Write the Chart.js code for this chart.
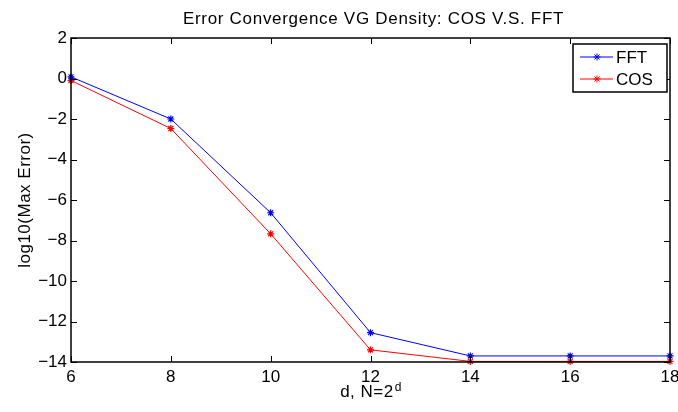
<!DOCTYPE html>
<html>
<head>
<meta charset="utf-8">
<script src="https://cdn.jsdelivr.net/npm/chart.js@4.4.0/dist/chart.umd.min.js"></script>
<style>
  html, body { margin: 0; padding: 0; background: #fff; }
  #wrap { width: 678px; height: 412px; }
</style>
</head>
<body>
<div id="wrap"><canvas id="grafico" width="678" height="412"></canvas></div>
<script>
// dados
const valoresD = [6, 8, 10, 12, 14, 16, 18]
const erroFFT = [0.08, -2.0, -6.63, -12.55, -13.7, -13.7, -13.7]
const erroCOS = [-0.1, -2.47, -7.67, -13.4, -13.97, -13.97, -13.97]
const ticksX = [6, 8, 10, 12, 14, 16, 18]
const ticksY = [2, 0, -2, -4, -6, -8, -10, -12, -14]

const fonte = "'Liberation Sans', Arial, sans-serif"
const menos = v => String(v).replace('-', '\u2212')

function pontos(ys){
    return valoresD.map((d, i) => ({ x: d, y: ys[i] }))
}

// caixa, ticks para dentro, titulos e legenda no estilo matlab
const estiloMatlab = {
    id: 'estiloMatlab',
    afterDraw(chart){
        const ctx = chart.ctx
        const area = chart.chartArea
        const sx = chart.scales.x
        const sy = chart.scales.y
        const tam = 6
        ctx.save()
        ctx.strokeStyle = '#000'
        ctx.lineWidth = 1
        ctx.beginPath()
        for (const v of ticksX){
            const px = Math.round(sx.getPixelForValue(v)) + 0.5
            ctx.moveTo(px, area.bottom); ctx.lineTo(px, area.bottom - tam)
            ctx.moveTo(px, area.top); ctx.lineTo(px, area.top + tam)
        }
        for (const v of ticksY){
            const py = Math.round(sy.getPixelForValue(v)) + 0.5
            ctx.moveTo(area.left, py); ctx.lineTo(area.left + tam, py)
            ctx.moveTo(area.right, py); ctx.lineTo(area.right - tam, py)
        }
        ctx.stroke()
        ctx.lineWidth = 1.5
        ctx.strokeRect(area.left, area.top, area.right - area.left, area.bottom - area.top)

        // titulo
        const cx = (area.left + area.right) / 2
        ctx.fillStyle = '#000'
        ctx.letterSpacing = '0.7px'
        ctx.font = '17px ' + fonte
        ctx.textAlign = 'center'
        ctx.textBaseline = 'alphabetic'
        ctx.fillText('Error Convergence VG Density: COS V.S. FFT', cx + 3, 24)

        // titulo eixo x com sobrescrito
        ctx.letterSpacing = '0.5px'
        const base = 'd, N=2'
        ctx.font = '17px ' + fonte
        const wBase = ctx.measureText(base).width
        ctx.font = '12px ' + fonte
        const wSup = ctx.measureText('d').width
        const x0 = cx - (wBase + wSup) / 2
        ctx.textAlign = 'left'
        ctx.font = '17px ' + fonte
        ctx.fillText(base, x0, 397)
        ctx.font = '12px ' + fonte
        ctx.fillText('d', x0 + wBase + 1, 391)

        // titulo eixo y
        ctx.save()
        ctx.translate(30, (area.top + area.bottom) / 2)
        ctx.rotate(-Math.PI / 2)
        ctx.textAlign = 'center'
        ctx.font = '17px ' + fonte
        ctx.fillText('log10(Max Error)', 0, 0)
        ctx.restore()
        ctx.letterSpacing = '0px'

        // legenda
        const lx = 573, ly = 44, lw = 94, lh = 48
        ctx.fillStyle = '#fff'
        ctx.fillRect(lx, ly, lw, lh)
        ctx.lineWidth = 1.5
        ctx.strokeStyle = '#000'
        ctx.strokeRect(lx, ly, lw, lh)
        chart.data.datasets.forEach((ds, i) => {
            const yy = ly + 13 + i * 22
            ctx.strokeStyle = ds.borderColor
            ctx.lineWidth = 1
            ctx.beginPath()
            ctx.moveTo(lx + 7, yy); ctx.lineTo(lx + 40, yy)
            ctx.stroke()
            Chart.helpers.drawPoint(ctx, { pointStyle: 'star', radius: 3.5, borderWidth: 1.2, rotation: 0 }, lx + 24, yy)
            ctx.fillStyle = '#000'
            ctx.font = '17px ' + fonte
            ctx.textAlign = 'left'
            ctx.textBaseline = 'middle'
            ctx.fillText(ds.label, lx + 43, yy + 1)
        })
        ctx.restore()
    }
}

const configuracao = {
    type: 'line',
    data: {
        datasets: [
            {
                label: 'FFT',
                data: pontos(erroFFT),
                borderColor: '#0000ff',
                backgroundColor: '#0000ff',
                borderWidth: 1,
                pointStyle: 'star',
                pointRadius: 3.5,
                pointBorderWidth: 1.2,
                tension: 0,
                clip: false
            },
            {
                label: 'COS',
                data: pontos(erroCOS),
                borderColor: '#ff0000',
                backgroundColor: '#ff0000',
                borderWidth: 1,
                pointStyle: 'star',
                pointRadius: 3.5,
                pointBorderWidth: 1.2,
                tension: 0,
                clip: false
            }
        ]
    },
    options: {
        responsive: false,
        animation: false,
        events: [],
        layout: { padding: { top: 38, right: 8, left: 0, bottom: 0 } },
        scales: {
            x: {
                type: 'linear',
                min: 6,
                max: 18,
                afterBuildTicks: s => { s.ticks = ticksX.map(v => ({ value: v })) },
                afterFit: s => { s.height = 50; s.paddingLeft = 0; s.paddingRight = 0 },
                grid: { display: false, drawTicks: false },
                border: { display: false },
                ticks: { color: '#000', padding: 5, maxRotation: 0, font: { family: fonte, size: 17 } }
            },
            y: {
                type: 'linear',
                min: -14,
                max: 2,
                afterBuildTicks: s => { s.ticks = ticksY.map(v => ({ value: v })) },
                afterFit: s => { s.width = 71; s.paddingTop = 0; s.paddingBottom = 0 },
                grid: { display: false, drawTicks: false },
                border: { display: false },
                ticks: { color: '#000', padding: 4, callback: v => menos(v), font: { family: fonte, size: 17 } }
            }
        },
        plugins: {
            legend: { display: false },
            title: { display: false },
            tooltip: { enabled: false }
        }
    },
    plugins: [estiloMatlab]
}

new Chart(document.getElementById('grafico'), configuracao)
</script>
</body>
</html>
